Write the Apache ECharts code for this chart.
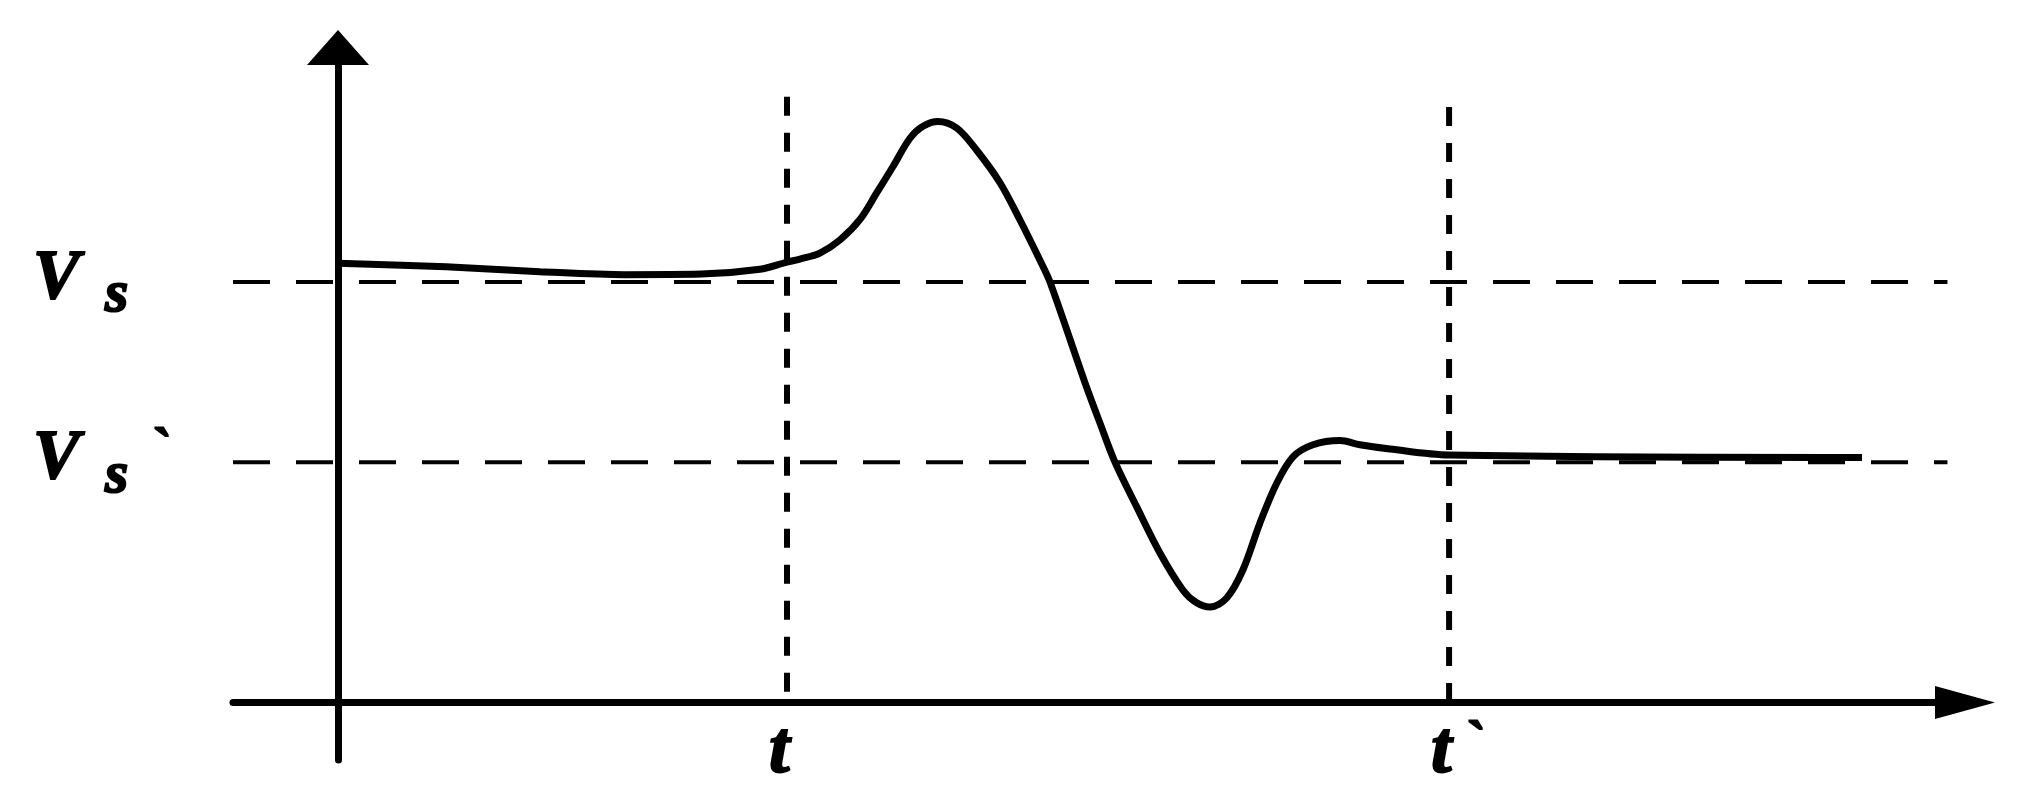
<!DOCTYPE html>
<html>
<head>
<meta charset="utf-8">
<script src="https://cdn.jsdelivr.net/npm/echarts@6/dist/echarts.min.js"></script>
<style>
    html, body { margin: 0; padding: 0; background: #fff; }
    #chart { width: 2020px; height: 797px; }
</style>
</head>
<body>
<div id="chart"></div>
<script>
    // axis extents (time units / voltage units)
    const xMin = -0.946, xMax = 14.658;
    const yMin = -0.955, yMax = 10.9;

    // marked instants on the time axis
    const tValues = [4.045, 10.01];
    const tNames = ['{t|t}', '{e| }{t|t}{p|`}'];
    const tLineTops = [10.08, 9.91];

    // voltage levels
    const vValues = [7.0, 4.0];
    const vNames = ['{v|V}{s|s}', '{v|V}{s2|s}{p|`}'];
    const vLineEnd = 14.5;

    // response curve
    const curveX = [0, 0.973, 1.82, 2.586, 3.27, 3.802, 4.045, 4.162, 4.342, 4.523, 4.703, 4.853, 5.00, 5.153,
        5.27, 5.405, 5.574, 5.754, 5.964, 6.144, 6.324, 6.414, 6.73, 6.865, 7.00, 7.195, 7.405, 7.613, 7.736,
        7.856, 8.006, 8.153, 8.306, 8.457, 8.604, 8.784, 9.027, 9.207, 9.477, 10.009, 13.73];
    const curveY = [7.31, 7.25, 7.17, 7.12, 7.13, 7.21, 7.33, 7.38, 7.48, 7.70, 8.04, 8.48, 8.92, 9.39,
        9.59, 9.67, 9.56, 9.19, 8.65, 8.03, 7.36, 7.00, 5.32, 4.65, 4.00, 3.26, 2.49, 1.87, 1.66,
        1.59, 1.74, 2.21, 2.99, 3.65, 4.09, 4.29, 4.36, 4.29, 4.22, 4.12, 4.08];

    const font = '"Liberation Serif", "DejaVu Serif", serif';
    const chart = echarts.init(document.getElementById('chart'));

    const series = [];
    vValues.forEach(function (v) {
        series.push({
            type: 'line', silent: true, symbol: 'none', z: 1,
            data: [[xMin, v], [vLineEnd, v]],
            lineStyle: { color: '#000', width: 4, type: [37, 26] }
        });
    });
    tValues.forEach(function (t, i) {
        series.push({
            type: 'line', silent: true, symbol: 'none', z: 1,
            data: [[t, tLineTops[i]], [t, 0]],
            lineStyle: { color: '#000', width: 6, type: [19, 17] }
        });
    });
    series.push({
        type: 'line', silent: true, symbol: 'none', z: 3,
        smooth: 0.33,
        data: curveX.map(function (x, i) { return [x, curveY[i]]; }),
        lineStyle: { color: '#000', width: 7 }
    });

    function pick(list, values, value) {
        let best = 0;
        values.forEach(function (v, i) {
            if (Math.abs(v - value) < Math.abs(values[best] - value)) best = i;
        });
        return list[best];
    }

    function txt(size, extra) {
        return Object.assign({
            fontFamily: font, fontWeight: 'bold', fontStyle: 'italic', fontSize: size, color: '#000', align: 'left',
            textBorderColor: '#000', textBorderWidth: 2
        }, extra);
    }

    chart.setOption({
        animation: false,
        backgroundColor: '#fff',
        grid: { left: 233, top: 47.5, width: 1732, height: 712.5, containLabel: false, outerBoundsMode: 'none' },
        xAxis: {
            type: 'value', min: xMin, max: xMax,
            splitLine: { show: false },
            axisTick: { show: false },
            axisLine: {
                onZero: true,
                symbol: ['none', 'triangle'],
                symbolSize: [33, 60],
                lineStyle: { color: '#000', width: 7 }
            },
            axisLabel: {
                customValues: tValues,
                margin: -44,
                formatter: function (value) { return pick(tNames, tValues, value); },
                rich: {
                    e: txt(74, { width: 36 }),
                    t: txt(74, { width: 36 }),
                    p: txt(56, { width: 36, fontStyle: 'normal', padding: [0, 0, 14, 0] })
                }
            }
        },
        yAxis: {
            type: 'value', min: yMin, max: yMax,
            splitLine: { show: false },
            axisTick: { show: false },
            axisLine: {
                onZero: true,
                symbol: ['none', 'triangle'],
                symbolSize: [62, 35],
                lineStyle: { color: '#000', width: 7 }
            },
            axisLabel: {
                customValues: vValues,
                margin: 50,
                formatter: function (value) { return pick(vNames, vValues, value); },
                rich: {
                    v: txt(70, { width: 72, padding: [0, 0, 4, 0] }),
                    s: txt(60, { width: 78, padding: [28, 0, 0, 0] }),
                    s2: txt(60, { width: 48, padding: [28, 0, 0, 0] }),
                    p: txt(56, { width: 30, fontStyle: 'normal', padding: [0, 0, 20, 0] })
                }
            }
        },
        series: series
    });
</script>
</body>
</html>
